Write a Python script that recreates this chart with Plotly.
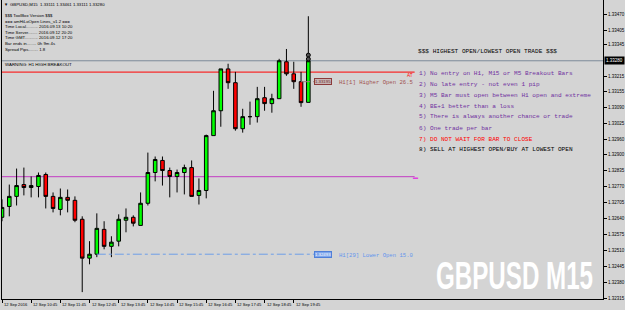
import plotly.graph_objects as go

# ---------------- data ----------------
bar_index = list(range(43))
opens = [1.32644, 1.32688, 1.32729, 1.32777, 1.32765, 1.32769, 1.32818, 1.32729, 1.32676, 1.32725,
         1.32713, 1.32636, 1.32478, 1.32494, 1.32595, 1.32526, 1.32547, 1.32632, 1.32644, 1.32611,
         1.32701, 1.32826, 1.32875, 1.32834, 1.32810, 1.32826, 1.32846, 1.32733, 1.32753, 1.32976,
         1.33077, 1.33247, 1.33191, 1.33004, 1.33053, 1.33053, 1.33130, 1.33106, 1.33126, 1.33276,
         1.33227, 1.33195, 1.33111]
highs = [1.32717, 1.32777, 1.32842, 1.32846, 1.32810, 1.32826, 1.32826, 1.32745, 1.32761, 1.32757,
         1.32729, 1.32648, 1.32547, 1.32660, 1.32628, 1.32567, 1.32656, 1.32680, 1.32652, 1.32745,
         1.32907, 1.32891, 1.32891, 1.32846, 1.32838, 1.32858, 1.32875, 1.32802, 1.32980, 1.33158,
         1.33247, 1.33268, 1.33235, 1.33085, 1.33114, 1.33174, 1.33174, 1.33146, 1.33288, 1.33328,
         1.33276, 1.33235, 1.33461]
lows = [1.32628, 1.32648, 1.32692, 1.32733, 1.32725, 1.32725, 1.32680, 1.32664, 1.32652, 1.32664,
        1.32624, 1.32340, 1.32453, 1.32482, 1.32514, 1.32482, 1.32526, 1.32583, 1.32607, 1.32611,
        1.32692, 1.32790, 1.32773, 1.32725, 1.32745, 1.32737, 1.32729, 1.32696, 1.32721, 1.32976,
        1.33012, 1.33166, 1.32996, 1.32988, 1.33020, 1.33029, 1.33077, 1.33069, 1.33126, 1.33219,
        1.33166, 1.33093, 1.33111]
closes = [1.32684, 1.32729, 1.32773, 1.32765, 1.32773, 1.32814, 1.32729, 1.32680, 1.32725, 1.32713,
          1.32632, 1.32478, 1.32494, 1.32599, 1.32526, 1.32543, 1.32636, 1.32644, 1.32620, 1.32701,
          1.32826, 1.32879, 1.32834, 1.32810, 1.32826, 1.32846, 1.32729, 1.32753, 1.32976, 1.33077,
          1.33247, 1.33191, 1.33004, 1.33053, 1.33053, 1.33126, 1.33106, 1.33126, 1.33280, 1.33227,
          1.33195, 1.33110, 1.33280]

time_tick_bars = [0, 4, 8, 12, 16, 20, 24, 28, 32, 36, 40]
time_tick_labels = ["12 Sep 2016", "12 Sep 10:45", "12 Sep 11:45", "12 Sep 12:45", "12 Sep 13:45",
                    "12 Sep 14:45", "12 Sep 15:45", "12 Sep 16:45", "12 Sep 17:45", "12 Sep 18:45",
                    "12 Sep 19:45"]
price_ticks = [1.33470, 1.33405, 1.33345, 1.33215, 1.33155, 1.33090, 1.33025, 1.32960, 1.32900,
               1.32835, 1.32770, 1.32705, 1.32640, 1.32575, 1.32510, 1.32445, 1.32380, 1.32315]

current_price = 1.33280
h1_breakout_level = 1.33234
magenta_level = 1.32809
higher_open_level = 1.33195
lower_open_level = 1.32494
higher_open_start_bar = 41
lower_open_start_bar = 13
signal_levels = [1.33303, 1.33287]

header_text = "GBPUSD,M15  1.33111 1.33461 1.33111 1.33280"
info_lines = ["$$$ ToolBox Version $$$",
              "=== amHiLoOpen Lines_v1.2 ===",
              "Time Local.......... 2016.09.13 10:20",
              "Time Server........ 2016.09.12 20:20",
              "Time GMT........... 2016.09.12 17:20",
              "Bar ends in........ 0h 9m 4s",
              "Spread Pips........ 1.8"]
warning_text = "WARNING: H1 HIGH BREAKOUT"
rules_title = "$$$ HIGHEST OPEN/LOWEST OPEN TRADE $$$"
rules = ["1) No entry on H1, M15 or M5 Breakout Bars",
         "2) No late entry - not even 1 pip",
         "3) M5 Bar must open between H1 open and extreme",
         "4) BE+1 better than a loss",
         "5) There is always another chance or trade",
         "6) One trade per bar",
         "7) DO NOT WAIT FOR BAR TO CLOSE",
         "8) SELL AT HIGHEST OPEN/BUY AT LOWEST OPEN"]
rule_colors = ["#7030a0"] * 6 + ["#ff0000", "#000000"]
higher_open_text = "H1[1] Higher Open 26.5"
lower_open_text = "H1[29] Lower Open 15.0"
watermark = "GBPUSD M15"

# ---------------- layout helpers ----------------
W, H = 625, 310
LM, RM, TM, BM = 2, 20, 0, 11
PW, PH = W - LM - RM, H - TM - BM
X_MAX = 82.4
Y_RANGE = [1.32312, 1.33527]


def px(x):
    return (x - LM) / PW


def py(y):
    return 1 - (y - TM) / PH


def xi(xpix):
    return (xpix - LM) / PW * X_MAX


BG = "#d4d4d4"
UI_FONT = "Liberation Sans, Arial, sans-serif"
MONO = "Liberation Mono, Courier New, monospace"

fig = go.Figure()

fig.add_trace(go.Candlestick(
    x=bar_index, open=opens, high=highs, low=lows, close=closes,
    increasing=dict(fillcolor="#00ff00", line=dict(color="#000000", width=1)),
    decreasing=dict(fillcolor="#ff0000", line=dict(color="#000000", width=1)),
    whiskerwidth=0, showlegend=False, hoverinfo="skip"))

# open lines (dash-dot)
fig.add_trace(go.Scatter(x=[lower_open_start_bar, xi(315)], y=[lower_open_level] * 2, mode="lines",
                         line=dict(color="#6f9fe8", width=1, dash="dashdot"), showlegend=False,
                         hoverinfo="skip"))
fig.add_trace(go.Scatter(x=[higher_open_start_bar, xi(315)], y=[higher_open_level] * 2, mode="lines",
                         line=dict(color="#a08080", width=1, dash="dashdot"), showlegend=False,
                         hoverinfo="skip"))
# signal markers on last bar
fig.add_trace(go.Scatter(x=[bar_index[-1]] * len(signal_levels), y=signal_levels, mode="markers",
                         marker=dict(symbol="circle", size=4, color="#505050",
                                     line=dict(color="#000000", width=1)),
                         showlegend=False, hoverinfo="skip"))

shapes = [
    dict(type="line", xref="paper", yref="y", x0=0, x1=1, y0=current_price, y1=current_price,
         line=dict(color="#7d8a99", width=1), layer="below"),
    dict(type="line", xref="x", yref="y", x0=0, x1=xi(416), y0=h1_breakout_level, y1=h1_breakout_level,
         line=dict(color="#ff0000", width=1), layer="below"),
    dict(type="line", xref="x", yref="y", x0=0, x1=xi(416), y0=magenta_level, y1=magenta_level,
         line=dict(color="#c33cc3", width=1), layer="below"),
]

ann = []


def text(t, x, y, size, color="#000000", family=UI_FONT, anchor="left", **kw):
    ann.append(dict(text=t, x=px(x), y=py(y), xref="paper", yref="paper", showarrow=False,
                    xanchor=anchor, yanchor="middle", font=dict(size=size, color=color, family=family),
                    **kw))


text("\u25bc", 2.5, 5, 4.2)
text(header_text, 8, 5, 4.3)
for i, line in enumerate(info_lines):
    text(line, 3, 15.7 + i * 5.55, 4.3)
text(warning_text, 3, 65, 4.4)

text(rules_title, 417, 51, 6.1, family=MONO)
rule_y = [73.3, 84, 95, 106, 117, 128.3, 139, 149.6]
for r, c, yy in zip(rules, rule_colors, rule_y):
    text(r, 418, yy, 6.1, color=c, family=MONO)

# level labels
ann.append(dict(text="1.33195", x=xi(315), y=higher_open_level, xref="x", yref="y", showarrow=False,
                xanchor="left", yanchor="middle", font=dict(size=4.3, color="#6b2a2a", family=UI_FONT),
                bgcolor="#c8b4b4", bordercolor="#8b3a3a", borderwidth=1, borderpad=0))
text(higher_open_text, 338, 82, 5.6, color="#a0524f", family=MONO)
ann.append(dict(text="1.32493", x=xi(315), y=lower_open_level, xref="x", yref="y", showarrow=False,
                xanchor="left", yanchor="middle", font=dict(size=4.3, color="#ffffff", family=UI_FONT),
                bgcolor="#7ea6ec", bordercolor="#4f7fd8", borderwidth=1, borderpad=0))
text(lower_open_text, 338, 255, 5.6, color="#6495ed", family=MONO)
text("AT", 416.5, 75, 4.6, color="#ff0000", anchor="right")
ann.append(dict(text="\u25ac", x=xi(417), y=magenta_level, xref="x", yref="y", showarrow=False,
                xanchor="center", yanchor="middle", font=dict(size=5, color="#e040e0")))

# time axis labels
for b, lab in zip(time_tick_bars, time_tick_labels):
    ann.append(dict(text=lab, x=b, y=0, xref="x", yref="paper", showarrow=False, xanchor="left",
                    yanchor="top", xshift=0, yshift=-1,
                    font=dict(size=4.1, color="#000000", family=UI_FONT)))

# current price box
ann.append(dict(text="1.33280", x=1, y=current_price, xref="paper", yref="y", showarrow=False,
                xanchor="left", yanchor="middle", xshift=1,
                font=dict(size=4.5, color="#ffffff", family=UI_FONT), bgcolor="#000000", borderpad=1))

# watermark
ann.append(dict(text=watermark, x=px(516), y=py(276), xref="paper", yref="paper", showarrow=False,
                xanchor="center", yanchor="middle",
                font=dict(size=38, color="#ffffff", family="Liberation Sans Narrow, Liberation Sans, Arial",
                          weight="bold")))

fig.update_layout(
    width=W, height=H, margin=dict(l=LM, r=RM, t=TM, b=BM),
    paper_bgcolor=BG, plot_bgcolor=BG, showlegend=False,
    shapes=shapes, annotations=ann,
    xaxis=dict(range=[0, X_MAX], rangeslider=dict(visible=False), showgrid=False, zeroline=False,
               showline=True, linecolor="#000000", linewidth=1, ticks="outside", ticklen=3,
               tickcolor="#000000", tickvals=time_tick_bars, showticklabels=False, fixedrange=True),
    yaxis=dict(range=Y_RANGE, side="right", showgrid=False, zeroline=False, showline=True, mirror=True,
               linecolor="#000000", linewidth=1, ticks="outside", ticklen=3, tickcolor="#000000",
               tickvals=price_ticks, ticktext=[f"{v:.5f}" for v in price_ticks],
               tickfont=dict(size=4.5, color="#000000", family=UI_FONT), fixedrange=True),
)

post = """
var els = document.querySelectorAll('text.annotation-text');
els.forEach(function(t){
  if (t.textContent.trim() === 'GBPUSD M15') {
    var w = t.getBBox().width;
    var s = 157 / w;
    t.style.transformBox = 'fill-box';
    t.style.transformOrigin = 'center';
    t.style.transform = 'scaleX(' + s + ')';
  }
});
"""

fig.write_html("out.html", config=dict(displayModeBar=False, staticPlot=True), post_script=post)
